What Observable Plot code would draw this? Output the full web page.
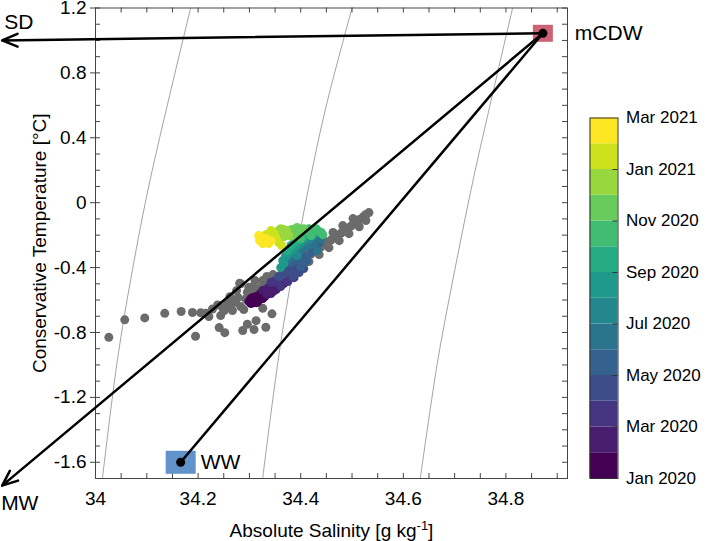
<!DOCTYPE html>
<html><head><meta charset="utf-8">
<script src="https://cdn.jsdelivr.net/npm/d3@7"></script>
<script src="https://cdn.jsdelivr.net/npm/@observablehq/plot@0.6"></script>
<style>
body{margin:0;background:#fff;}
#wrap{position:relative;width:712px;height:541px;overflow:hidden;font-family:"Liberation Sans",Arial,sans-serif;}
#main{position:absolute;left:0;top:0;}
#cbar{position:absolute;left:589px;top:107px;}
</style></head>
<body><div id="wrap"><div id="main"></div><div id="cbar"></div></div>
<script>
// ---------- data ----------
const months = ["Jan 2020","Feb 2020","Mar 2020","Apr 2020","May 2020","Jun 2020","Jul 2020",
  "Aug 2020","Sep 2020","Oct 2020","Nov 2020","Dec 2020","Jan 2021","Feb 2021"];
const colorbarTicks = [0,2,4,6,8,10,12,14];
const colorbarLabels = ["Jan 2020","Mar 2020","May 2020","Jul 2020","Sep 2020","Nov 2020","Jan 2021","Mar 2021"];
const xTicks = [34,34.2,34.4,34.6,34.8];
const yTicks = [-1.6,-1.2,-0.8,-0.4,0,0.4,0.8,1.2];

const endNames = ["mCDW","WW"];
const endS = [34.872, 34.166];
const endT = [1.044, -1.6];
const arrowNames = ["SD","MW"];
const arrowS = [33.818, 33.818];
const arrowT = [1.0, -1.744];

// isopycnals (thin gray curves)
const iso1S = [34.1855, 34.1074, 34.0717, 34.0424, 34.0135];
const iso1T = [1.2, 0.154, -0.42, -0.976, -1.7];
const iso2S = [34.500, 34.450, 34.418, 34.3646, 34.3258];
const iso2T = [1.2, 0.6, 0.135, -0.79, -1.7];
const iso3S = [34.813, 34.762, 34.737, 34.700, 34.667, 34.633];
const iso3T = [1.2, 0.505, 0.154, -0.42, -0.976, -1.7];

// gray points (other record)
const grayS = [34.026,34.057,34.096,34.135,34.167,34.189,34.205,34.215,34.195,34.241,34.252,34.287,34.296,34.309,34.313,34.332,34.326,34.344,34.281,34.299,34.311,34.334,
  34.228,34.238,34.251,34.257,34.267,34.273,34.283,34.293,34.303,34.296,34.283,34.313,34.262,34.275,34.244,34.221,34.322,34.289,34.262,34.248,34.278,34.268,
  34.3125,34.332,34.352,34.371,34.391,34.410,34.430,34.449,34.469,34.488,34.508,34.522,34.533,
  34.322,34.342,34.361,34.381,34.400,34.420,34.439,34.459,34.479,34.498,34.514,34.527,
  34.307,34.326,34.346,34.365,34.385,34.404,34.424,34.443,34.463,34.482,34.502,
  34.318,34.338,34.358,34.377,34.397,34.416,34.436,34.455,34.475,34.494,34.514,34.527];
const grayT = [-0.830,-0.722,-0.710,-0.682,-0.671,-0.677,-0.679,-0.682,-0.823,-0.770,-0.801,-0.788,-0.749,-0.782,-0.727,-0.768,-0.651,-0.685,-0.497,-0.521,-0.480,-0.455,
  -0.655,-0.630,-0.665,-0.624,-0.665,-0.614,-0.640,-0.593,-0.614,-0.552,-0.500,-0.562,-0.579,-0.542,-0.696,-0.702,-0.579,-0.659,-0.640,-0.648,-0.585,-0.600,
  -0.542,-0.505,-0.468,-0.425,-0.381,-0.338,-0.295,-0.252,-0.209,-0.166,-0.123,-0.086,-0.061,
  -0.523,-0.486,-0.446,-0.403,-0.360,-0.317,-0.273,-0.230,-0.187,-0.144,-0.104,-0.073,
  -0.517,-0.480,-0.443,-0.400,-0.356,-0.313,-0.270,-0.227,-0.184,-0.141,-0.098,
  -0.567,-0.530,-0.493,-0.450,-0.406,-0.363,-0.320,-0.277,-0.234,-0.191,-0.148,-0.110];

// coloured points, one list per month
const colS = [
  [34.303,34.3125,34.322,34.309,34.318,34.330,34.299,34.3066,34.3145,34.326,34.303],
  [34.326,34.338,34.348,34.334,34.346,34.357,34.367,34.332,34.342,34.352,34.361],
  [34.342,34.354,34.365,34.377,34.361,34.375,34.387,34.348,34.359,34.371,34.381],
  [34.371,34.383,34.395,34.385,34.397,34.406,34.357,34.365,34.377,34.389,34.400],
  [34.381,34.393,34.404,34.412,34.420,34.400,34.428,34.436,34.387,34.398,34.408,34.424,34.432],
  [34.377,34.389,34.400,34.412,34.424,34.440,34.432,34.383,34.395,34.406,34.418,34.428],
  [34.371,34.383,34.395,34.406,34.418,34.393,34.377,34.389,34.400],
  [34.365,34.377,34.389,34.400,34.412,34.361,34.424,34.371,34.383,34.395,34.406,34.367],
  [34.381,34.393,34.404,34.416,34.428,34.373,34.387,34.398,34.410,34.422],
  [34.397,34.410,34.424,34.436,34.443,34.400,34.404,34.416,34.430,34.440,34.420],
  [34.371,34.383,34.393,34.406,34.385,34.361,34.377,34.389,34.398,34.367],
  [34.352,34.361,34.373,34.377,34.342,34.357,34.367,34.346,34.365],
  [34.332,34.342,34.352,34.357,34.326,34.338,34.348,34.346,34.363],
  [34.318,34.326,34.334,34.342,34.320,34.322,34.332,34.338,34.326]];
const colT = [
  [-0.591,-0.579,-0.560,-0.616,-0.603,-0.579,-0.610,-0.585,-0.616,-0.591,-0.622],
  [-0.542,-0.523,-0.505,-0.566,-0.548,-0.517,-0.499,-0.536,-0.560,-0.536,-0.505],
  [-0.492,-0.474,-0.455,-0.437,-0.517,-0.486,-0.462,-0.486,-0.467,-0.467,-0.455],
  [-0.431,-0.406,-0.388,-0.455,-0.431,-0.406,-0.455,-0.443,-0.418,-0.418,-0.394],
  [-0.369,-0.344,-0.326,-0.357,-0.308,-0.394,-0.277,-0.246,-0.357,-0.338,-0.369,-0.289,-0.258],
  [-0.344,-0.314,-0.289,-0.271,-0.252,-0.221,-0.295,-0.332,-0.301,-0.277,-0.258,-0.227],
  [-0.326,-0.295,-0.264,-0.240,-0.221,-0.326,-0.314,-0.283,-0.252],
  [-0.357,-0.308,-0.271,-0.240,-0.209,-0.400,-0.203,-0.332,-0.289,-0.252,-0.221,-0.375],
  [-0.264,-0.234,-0.209,-0.190,-0.178,-0.295,-0.246,-0.221,-0.197,-0.184],
  [-0.190,-0.172,-0.166,-0.178,-0.197,-0.221,-0.178,-0.160,-0.160,-0.184,-0.203],
  [-0.184,-0.166,-0.153,-0.160,-0.209,-0.203,-0.172,-0.184,-0.172,-0.209],
  [-0.184,-0.160,-0.172,-0.203,-0.209,-0.172,-0.166,-0.190,-0.209],
  [-0.197,-0.172,-0.215,-0.246,-0.209,-0.190,-0.190,-0.227,-0.264],
  [-0.203,-0.234,-0.246,-0.234,-0.234,-0.209,-0.221,-0.252,-0.252]];

// ---------- build ----------
const FONT = "Liberation Sans, Arial, Helvetica, sans-serif";
const W = 712, H = 541, mL = 95, mR = 145, mT = 7.5, mB = 63;
const xDom = [34, 34.92], yDom = [-1.7, 1.2];
const dpx = (xDom[1]-xDom[0])/(W-mL-mR), dpy = (yDom[1]-yDom[0])/(H-mT-mB);
const tk = 5;
const xMinor = d3.range(0, 19).map(i => +(34 + i*0.05).toFixed(2));
const yMinor = d3.range(-17, 13).map(i => i/10);
const viridis = months.map((m,i) => d3.interpolateViridis(i/(months.length-1)));
const colorOpts = {type:"ordinal", domain: months, range: viridis};

const iso = [[iso1S,iso1T],[iso2S,iso2T],[iso3S,iso3T]].flatMap(([S,T],k) => S.map((s,i)=>({s, t:T[i], k})));
const col = colS.flatMap((arr,m) => arr.map((s,i)=>({s, t: colT[m][i], m: months[m]})));
const gray = grayS.map((s,i)=>({s, t: grayT[i]}));
const ends = endNames.map((n,i)=>({n, s:endS[i], t:endT[i]}));
const arrows = arrowNames.map((n,i)=>({n, s1:endS[0], t1:endT[0], s2:arrowS[i], t2:arrowT[i]}));
const rectSym = (w,h) => ({draw(ctx){ ctx.rect(-w/2,-h/2,w,h); }});

const main = Plot.plot({
  width: W, height: H, marginLeft: mL, marginRight: mR, marginTop: mT, marginBottom: mB,
  x: {domain: xDom}, y: {domain: yDom},
  color: colorOpts,
  style: {fontFamily: FONT, fontSize: "19px", background: "white", color: "black"},
  marks: [
    Plot.line(iso, {x:"s", y:"t", z:"k", stroke:"#8a8a8a", strokeWidth:0.8, curve:"catmull-rom"}),
    Plot.dot(gray, {x:"s", y:"t", r:4.5, fill:"#6b6b6b"}),
    Plot.dot(col, {x:"s", y:"t", r:4.5, fill:"m"}),
    // inward ticks
    Plot.ruleX(xMinor, {x:d=>d, y1:yDom[0], y2:yDom[0]+tk*dpy, stroke:"#444"}),
    Plot.ruleX(xMinor, {x:d=>d, y1:yDom[1], y2:yDom[1]-tk*dpy, stroke:"#444"}),
    Plot.ruleY(yMinor, {y:d=>d, x1:xDom[0], x2:xDom[0]+tk*dpx, stroke:"#444"}),
    Plot.ruleY(yMinor, {y:d=>d, x1:xDom[1], x2:xDom[1]-tk*dpx, stroke:"#444"}),
    Plot.ruleY(yTicks, {y:d=>d, x1:xDom[0]-tk*dpx, x2:xDom[0], stroke:"#444"}),
    Plot.frame({stroke:"#444", strokeWidth:1}),
    Plot.dot([ends[0]], {x:"s", y:"t", symbol: rectSym(20,17), r:10, fill:"#cc6273", stroke:null}),
    Plot.dot([ends[1]], {x:"s", y:"t", symbol: rectSym(30,23), r:10, fill:"#6292ca", stroke:null}),
    Plot.arrow(arrows, {x1:"s1", y1:"t1", x2:"s2", y2:"t2", stroke:"black", strokeWidth:2.5, headLength:10, headAngle:45}),
    Plot.link([0], {x1:endS[0], y1:endT[0], x2:endS[1], y2:endT[1], stroke:"black", strokeWidth:2.5}),
    Plot.dot(ends, {x:"s", y:"t", r:4.5, fill:"black"}),
    Plot.text([arrows[0]], {x:"s2", y:"t2", text:"n", textAnchor:"start", dx:2, dy:-18, fontSize:21, lineAnchor:"middle"}),
    Plot.text([arrows[1]], {x:"s2", y:"t2", text:"n", textAnchor:"start", dx:-1, dy:18, fontSize:21, lineAnchor:"middle"}),
    Plot.text([ends[0]], {x:"s", y:"t", text:"n", textAnchor:"start", dx:32, dy:0, fontSize:21, lineAnchor:"middle"}),
    Plot.text([ends[1]], {x:"s", y:"t", text:"n", textAnchor:"start", dx:20, dy:0, fontSize:21, lineAnchor:"middle"}),
    Plot.axisX({ticks:xTicks, tickSize:0, tickPadding:13, tickFormat:d=>String(d), label:null}),
    Plot.axisY({ticks:yTicks, tickSize:0, tickPadding:9, tickFormat:d=>String(d), label:null}),
    Plot.text(["Absolute Salinity [g kg-1]"], {frameAnchor:"bottom", dy:58, lineAnchor:"bottom", textAnchor:"middle", fontSize:19, text:d=>d}),
    Plot.text(["Conservative Temperature [°C]"], {frameAnchor:"left", dx:-56, rotate:-90, textAnchor:"middle", lineAnchor:"middle", fontSize:19, text:d=>d})
  ]
});
// superscript for the x-axis title
d3.select(main).selectAll("text").filter(function(){ return this.textContent === "Absolute Salinity [g kg-1]"; })
  .each(function(){
    const t = d3.select(this); t.text(null);
    t.append("tspan").text("Absolute Salinity [g kg");
    t.append("tspan").attr("dy","-7").attr("font-size","13").text("-1");
    t.append("tspan").attr("dy","7").text("]");
  });
document.getElementById("main").appendChild(main);

const cbTickInner = colorbarTicks.filter(d => d > 0 && d < 14);
const cb = Plot.plot({
  width: 123, height: 381, marginLeft: 0.5, marginRight: 94.5, marginTop: 10.5, marginBottom: 10,
  x: {domain:[0,1], axis:null}, y: {domain:[0,14], axis:null},
  color: colorOpts,
  style: {fontFamily: FONT, fontSize: "17px", background:"transparent", color:"black"},
  marks: [
    Plot.rect(months, {x1:0, x2:1, y1:(d,i)=>i, y2:(d,i)=>i+1, fill:d=>d}),
    Plot.ruleY(cbTickInner, {y:d=>d, x1:0.82, x2:1, stroke:"#333"}),
    Plot.frame({stroke:"#333"}),
    Plot.axisY({ticks: colorbarTicks, anchor:"right", tickSize:0, tickPadding:8,
      tickFormat: d => colorbarLabels[colorbarTicks.indexOf(d)], label:null})
  ]
});
document.getElementById("cbar").appendChild(cb);
</script>
</body></html>
